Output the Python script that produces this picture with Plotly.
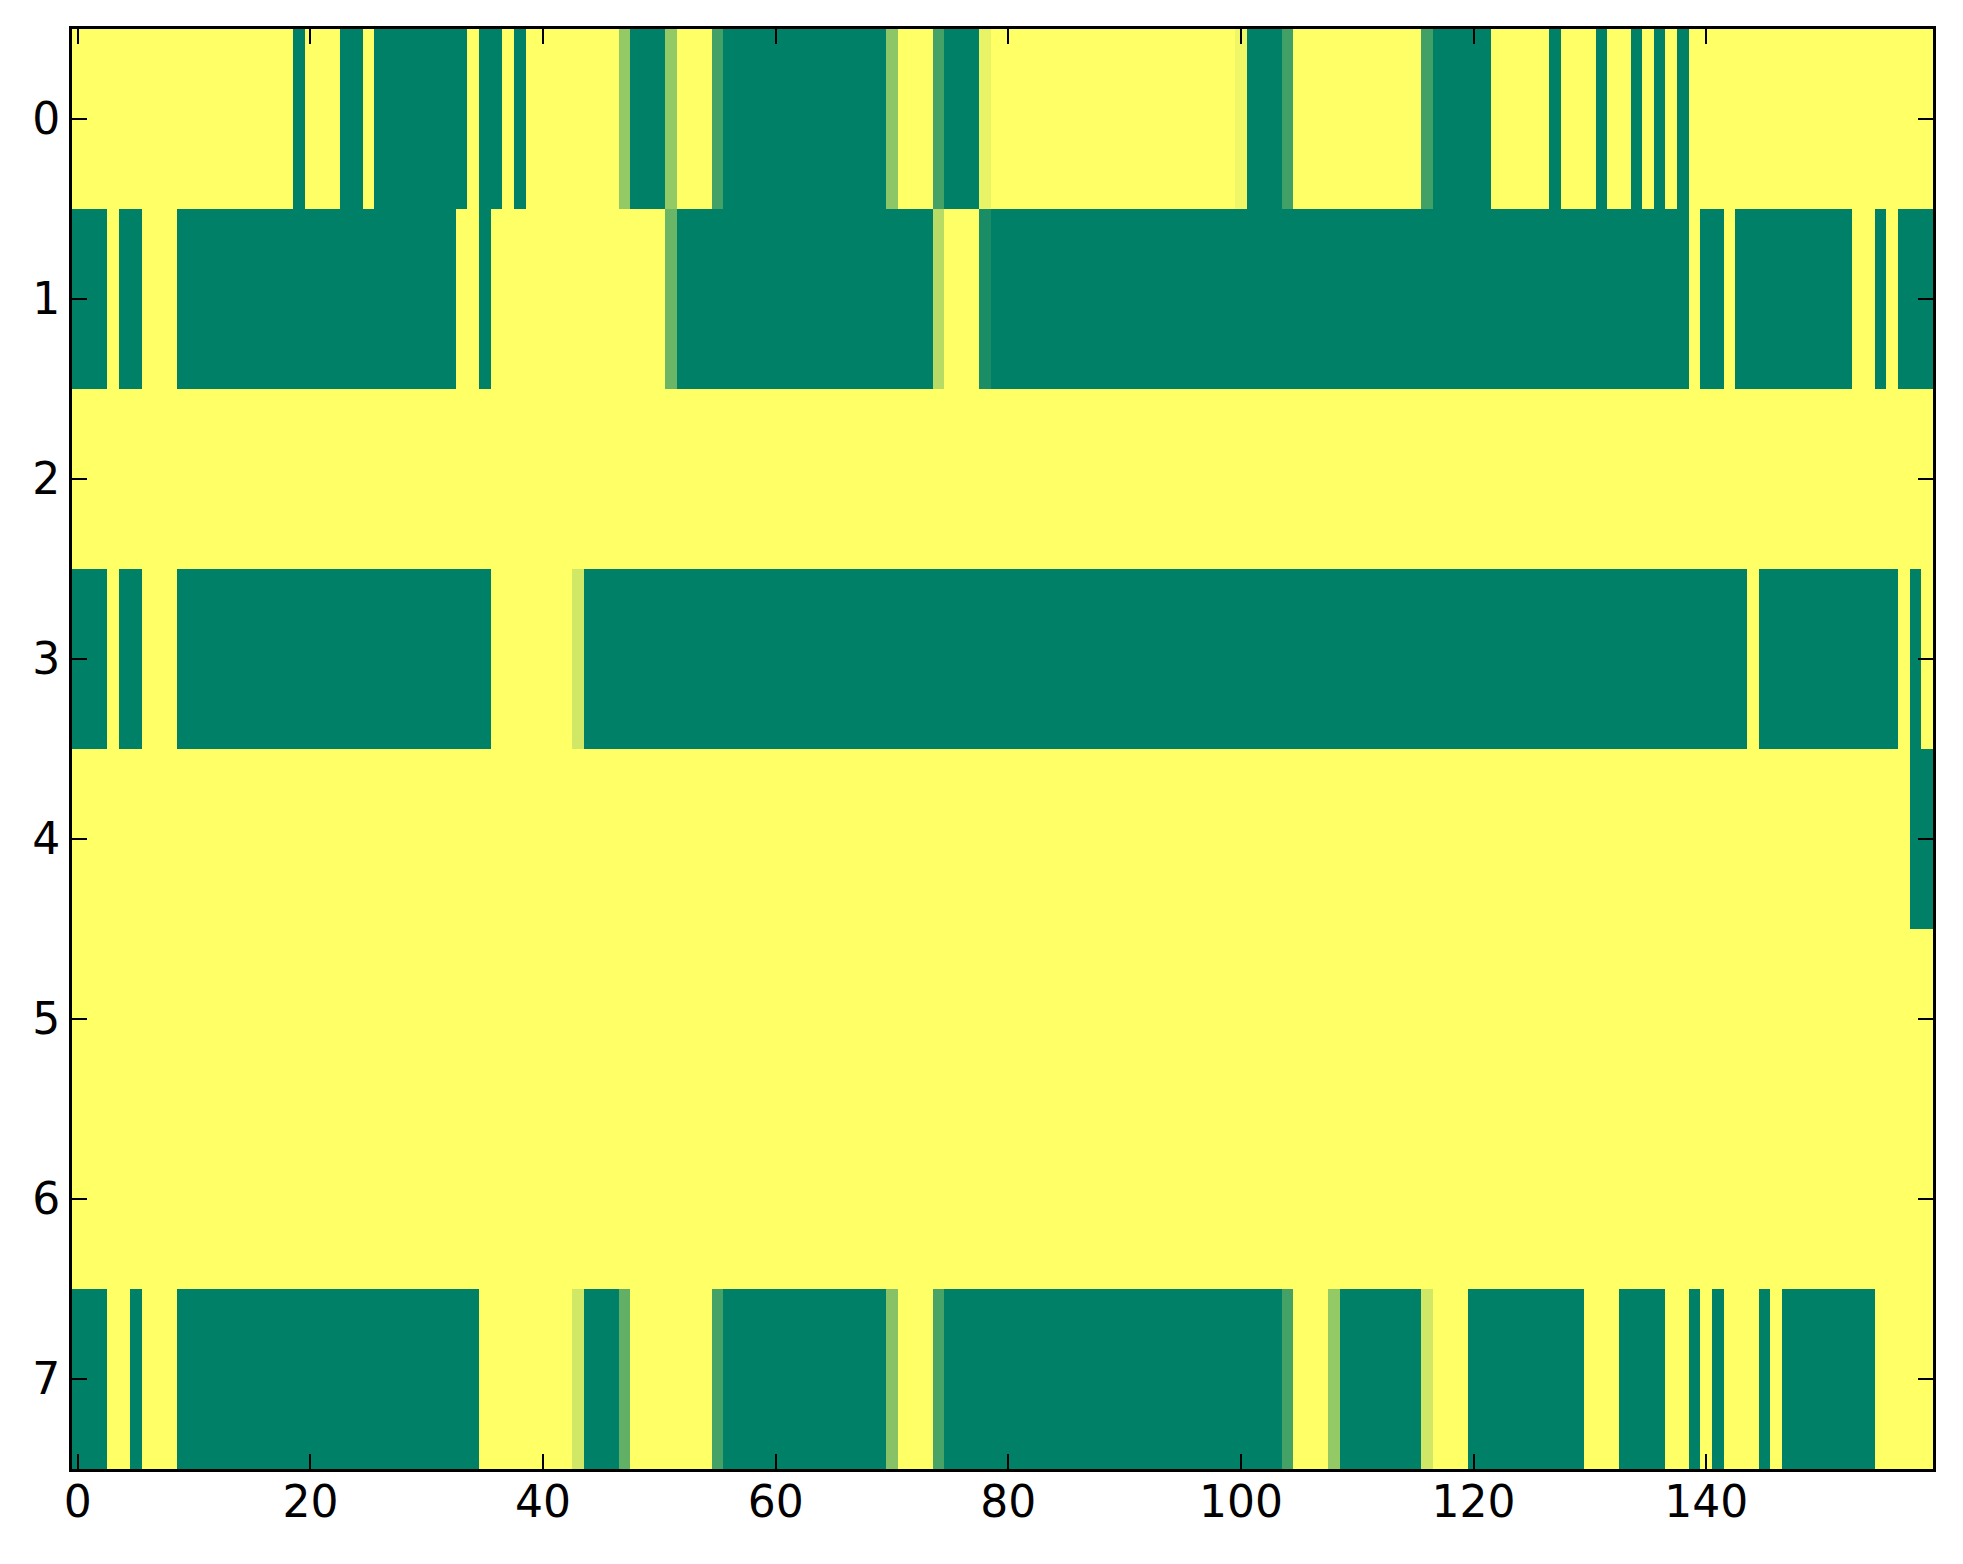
import plotly.graph_objects as go

# cell values for each row of the image (0 = green, 1 = yellow)
row0 = [1, 1, 1, 1, 1, 1, 1, 1, 1, 1, 1, 1, 1, 1, 1, 1, 1, 1, 1, 0,
        1, 1, 1, 0, 0, 1, 0, 0, 0, 0, 0, 0, 0, 0, 1, 0, 0, 1, 0, 1,
        1, 1, 1, 1, 1, 1, 1, 0.58, 0, 0, 0, 0.58, 1, 1, 1, 0.26, 0, 0, 0, 0,
        0, 0, 0, 0, 0, 0, 0, 0, 0, 0, 0.55, 1, 1, 1, 0.27, 0, 0, 0, 0.91, 1,
        1, 1, 1, 1, 1, 1, 1, 1, 1, 1, 1, 1, 1, 1, 1, 1, 1, 1, 1, 1,
        0.94, 0, 0, 0, 0.25, 1, 1, 1, 1, 1, 1, 1, 1, 1, 1, 1, 0.25, 0, 0, 0,
        0, 0, 1, 1, 1, 1, 1, 0, 1, 1, 1, 0, 1, 1, 0, 1, 0, 1, 0, 1,
        1, 1, 1, 1, 1, 1, 1, 1, 1, 1, 1, 1, 1, 1, 1, 1, 1, 1, 1, 1]
row1 = [0, 0, 0, 1, 0, 0, 1, 1, 1, 0, 0, 0, 0, 0, 0, 0, 0, 0, 0, 0,
        0, 0, 0, 0, 0, 0, 0, 0, 0, 0, 0, 0, 0, 1, 1, 0, 1, 1, 1, 1,
        1, 1, 1, 1, 1, 1, 1, 1, 1, 1, 1, 0.42, 0, 0, 0, 0, 0, 0, 0, 0,
        0, 0, 0, 0, 0, 0, 0, 0, 0, 0, 0, 0, 0, 0, 0.72, 1, 1, 1, 0.1, 0,
        0, 0, 0, 0, 0, 0, 0, 0, 0, 0, 0, 0, 0, 0, 0, 0, 0, 0, 0, 0,
        0, 0, 0, 0, 0, 0, 0, 0, 0, 0, 0, 0, 0, 0, 0, 0, 0, 0, 0, 0,
        0, 0, 0, 0, 0, 0, 0, 0, 0, 0, 0, 0, 0, 0, 0, 0, 0, 0, 0, 1,
        0, 0, 1, 0, 0, 0, 0, 0, 0, 0, 0, 0, 0, 1, 1, 0, 1, 0, 0, 0]
row2 = [1, 1, 1, 1, 1, 1, 1, 1, 1, 1, 1, 1, 1, 1, 1, 1, 1, 1, 1, 1,
        1, 1, 1, 1, 1, 1, 1, 1, 1, 1, 1, 1, 1, 1, 1, 1, 1, 1, 1, 1,
        1, 1, 1, 1, 1, 1, 1, 1, 1, 1, 1, 1, 1, 1, 1, 1, 1, 1, 1, 1,
        1, 1, 1, 1, 1, 1, 1, 1, 1, 1, 1, 1, 1, 1, 1, 1, 1, 1, 1, 1,
        1, 1, 1, 1, 1, 1, 1, 1, 1, 1, 1, 1, 1, 1, 1, 1, 1, 1, 1, 1,
        1, 1, 1, 1, 1, 1, 1, 1, 1, 1, 1, 1, 1, 1, 1, 1, 1, 1, 1, 1,
        1, 1, 1, 1, 1, 1, 1, 1, 1, 1, 1, 1, 1, 1, 1, 1, 1, 1, 1, 1,
        1, 1, 1, 1, 1, 1, 1, 1, 1, 1, 1, 1, 1, 1, 1, 1, 1, 1, 1, 1]
row3 = [0, 0, 0, 1, 0, 0, 1, 1, 1, 0, 0, 0, 0, 0, 0, 0, 0, 0, 0, 0,
        0, 0, 0, 0, 0, 0, 0, 0, 0, 0, 0, 0, 0, 0, 0, 0, 1, 1, 1, 1,
        1, 1, 1, 0.82, 0, 0, 0, 0, 0, 0, 0, 0, 0, 0, 0, 0, 0, 0, 0, 0,
        0, 0, 0, 0, 0, 0, 0, 0, 0, 0, 0, 0, 0, 0, 0, 0, 0, 0, 0, 0,
        0, 0, 0, 0, 0, 0, 0, 0, 0, 0, 0, 0, 0, 0, 0, 0, 0, 0, 0, 0,
        0, 0, 0, 0, 0, 0, 0, 0, 0, 0, 0, 0, 0, 0, 0, 0, 0, 0, 0, 0,
        0, 0, 0, 0, 0, 0, 0, 0, 0, 0, 0, 0, 0, 0, 0, 0, 0, 0, 0, 0,
        0, 0, 0, 0, 1, 0, 0, 0, 0, 0, 0, 0, 0, 0, 0, 0, 0, 1, 0, 1]
row4 = [1, 1, 1, 1, 1, 1, 1, 1, 1, 1, 1, 1, 1, 1, 1, 1, 1, 1, 1, 1,
        1, 1, 1, 1, 1, 1, 1, 1, 1, 1, 1, 1, 1, 1, 1, 1, 1, 1, 1, 1,
        1, 1, 1, 1, 1, 1, 1, 1, 1, 1, 1, 1, 1, 1, 1, 1, 1, 1, 1, 1,
        1, 1, 1, 1, 1, 1, 1, 1, 1, 1, 1, 1, 1, 1, 1, 1, 1, 1, 1, 1,
        1, 1, 1, 1, 1, 1, 1, 1, 1, 1, 1, 1, 1, 1, 1, 1, 1, 1, 1, 1,
        1, 1, 1, 1, 1, 1, 1, 1, 1, 1, 1, 1, 1, 1, 1, 1, 1, 1, 1, 1,
        1, 1, 1, 1, 1, 1, 1, 1, 1, 1, 1, 1, 1, 1, 1, 1, 1, 1, 1, 1,
        1, 1, 1, 1, 1, 1, 1, 1, 1, 1, 1, 1, 1, 1, 1, 1, 1, 1, 0, 0]
row5 = [1, 1, 1, 1, 1, 1, 1, 1, 1, 1, 1, 1, 1, 1, 1, 1, 1, 1, 1, 1,
        1, 1, 1, 1, 1, 1, 1, 1, 1, 1, 1, 1, 1, 1, 1, 1, 1, 1, 1, 1,
        1, 1, 1, 1, 1, 1, 1, 1, 1, 1, 1, 1, 1, 1, 1, 1, 1, 1, 1, 1,
        1, 1, 1, 1, 1, 1, 1, 1, 1, 1, 1, 1, 1, 1, 1, 1, 1, 1, 1, 1,
        1, 1, 1, 1, 1, 1, 1, 1, 1, 1, 1, 1, 1, 1, 1, 1, 1, 1, 1, 1,
        1, 1, 1, 1, 1, 1, 1, 1, 1, 1, 1, 1, 1, 1, 1, 1, 1, 1, 1, 1,
        1, 1, 1, 1, 1, 1, 1, 1, 1, 1, 1, 1, 1, 1, 1, 1, 1, 1, 1, 1,
        1, 1, 1, 1, 1, 1, 1, 1, 1, 1, 1, 1, 1, 1, 1, 1, 1, 1, 1, 1]
row6 = [1, 1, 1, 1, 1, 1, 1, 1, 1, 1, 1, 1, 1, 1, 1, 1, 1, 1, 1, 1,
        1, 1, 1, 1, 1, 1, 1, 1, 1, 1, 1, 1, 1, 1, 1, 1, 1, 1, 1, 1,
        1, 1, 1, 1, 1, 1, 1, 1, 1, 1, 1, 1, 1, 1, 1, 1, 1, 1, 1, 1,
        1, 1, 1, 1, 1, 1, 1, 1, 1, 1, 1, 1, 1, 1, 1, 1, 1, 1, 1, 1,
        1, 1, 1, 1, 1, 1, 1, 1, 1, 1, 1, 1, 1, 1, 1, 1, 1, 1, 1, 1,
        1, 1, 1, 1, 1, 1, 1, 1, 1, 1, 1, 1, 1, 1, 1, 1, 1, 1, 1, 1,
        1, 1, 1, 1, 1, 1, 1, 1, 1, 1, 1, 1, 1, 1, 1, 1, 1, 1, 1, 1,
        1, 1, 1, 1, 1, 1, 1, 1, 1, 1, 1, 1, 1, 1, 1, 1, 1, 1, 1, 1]
row7 = [0, 0, 0, 1, 1, 0, 1, 1, 1, 0, 0, 0, 0, 0, 0, 0, 0, 0, 0, 0,
        0, 0, 0, 0, 0, 0, 0, 0, 0, 0, 0, 0, 0, 0, 0, 1, 1, 1, 1, 1,
        1, 1, 1, 0.82, 0, 0, 0, 0.38, 1, 1, 1, 1, 1, 1, 1, 0.27, 0, 0, 0, 0,
        0, 0, 0, 0, 0, 0, 0, 0, 0, 0, 0.53, 1, 1, 1, 0.28, 0, 0, 0, 0, 0,
        0, 0, 0, 0, 0, 0, 0, 0, 0, 0, 0, 0, 0, 0, 0, 0, 0, 0, 0, 0,
        0, 0, 0, 0, 0.27, 1, 1, 1, 0.58, 0, 0, 0, 0, 0, 0, 0, 0.82, 1, 1, 1,
        0, 0, 0, 0, 0, 0, 0, 0, 0, 0, 1, 1, 1, 0, 0, 0, 0, 1, 1, 0,
        1, 0, 1, 1, 1, 0, 1, 0, 0, 0, 0, 0, 0, 0, 0, 1, 1, 1, 1, 1]

x_ticks = [0, 20, 40, 60, 80, 100, 120, 140]
y_ticks = [0, 1, 2, 3, 4, 5, 6, 7]

# matplotlib "summer" colormap
summer = [[0.0, "rgb(0,128,102)"], [1.0, "rgb(255,255,102)"]]

z = [row0, row1, row2, row3, row4, row5, row6, row7]

fig = go.Figure()
fig.add_trace(go.Heatmap(z=z, colorscale=summer, zmin=0, zmax=1,
                         showscale=False, hoverinfo="skip"))

axis_style = dict(showline=True, linecolor="black", linewidth=3,
                  mirror="ticks", ticks="inside", ticklen=15, tickwidth=2,
                  tickcolor="black", showgrid=False, zeroline=False,
                  tickfont=dict(family="DejaVu Sans", size=44, color="black"))

fig.update_xaxes(range=[-0.5, 159.5], tickvals=x_ticks,
                 ticklabelstandoff=-8, **axis_style)
fig.update_yaxes(range=[7.5, -0.5], tickvals=y_ticks, **axis_style)

# the page body adds an 8px margin, so the figure is drawn a bit smaller
fig.update_layout(
    width=1955, height=1556,
    margin=dict(l=64, r=30, t=21, b=95),
    paper_bgcolor="white", plot_bgcolor="white",
)

fig.write_html("out.html")
